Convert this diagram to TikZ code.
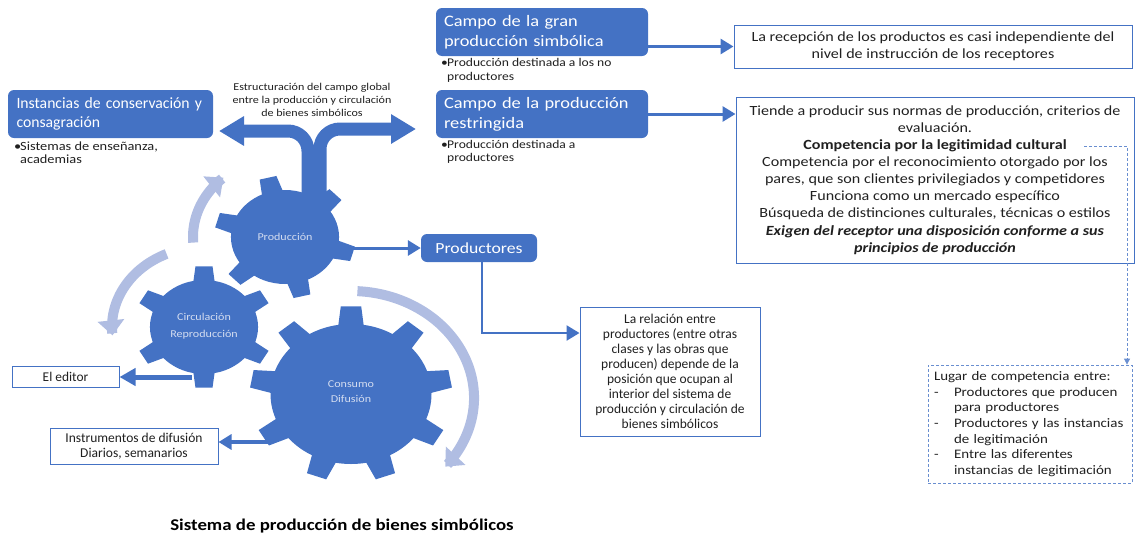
\documentclass[tikz,border=0pt]{standalone}
\usepackage{fontspec}
\setmainfont{Carlito}[FakeStretch=1.15]
\newfontfamily\nst{Carlito}
\usetikzlibrary{arrows.meta,calc}
\definecolor{blu}{HTML}{4472C4}
\definecolor{lite}{HTML}{B0BDE2}
\definecolor{gtxt}{HTML}{D3DCF0}
\definecolor{ink}{HTML}{202020}
\newcommand\fs[2]{\fontsize{#1}{#2}\selectfont}
\newcommand\drawgear[7]{%
  \begin{scope}[shift={(#1)},xscale=1.15]
    \fill[blu] (0,0) circle (#4pt);
    \foreach \k in {1,...,#2}{
      \pgfmathsetmacro\ang{-(#3+360/#2*(\k-1))}
      \pgfmathsetmacro\rin{#4-4}
      \fill[blu] (\ang+#6:\rin) -- (\ang+#7:#5) -- (\ang-#7:#5) -- (\ang-#6:\rin) -- cycle;
    }
  \end{scope}}
\tikzset{
  bbox/.style={fill=blu, rounded corners=6pt, text=white, align=left},
  wbox/.style={draw=blu, line width=1pt, fill=white, text=ink, align=center},
  bullet/.style={anchor=north west, inner sep=0pt, text=ink, align=left},
  conn/.style={blu, line width=3pt, -{Triangle[length=13pt,width=15pt]}},
  bigarrow/.style={blu, line width=13pt, rounded corners=20pt, -{Triangle[length=25pt,width=28pt]}},
  litearrow/.style={lite, line width=10pt, -{Triangle[length=15pt,width=26pt]}},
  geartext/.style={text=gtxt, align=center},
  dashline/.style={blu!80, line width=0.8pt, dash pattern=on 3pt off 2pt},
}
\begin{document}
\begin{tikzpicture}[x=1pt,y=-1pt]
\useasboundingbox (0,0) rectangle (1135,533);

% gear centres
\coordinate (gP) at (285,237);
\coordinate (gC) at (204,327);
\coordinate (gK) at (351,394);

% light circular arrows
\draw[litearrow] plot[domain=0:1, samples=40, smooth] ({285+1.15*80*cos(184-52*\x)},{237-80*sin(184-52*\x)});
\draw[litearrow] plot[domain=0:1, samples=40, smooth] ({204+1.15*80*cos(114+72*\x)},{327-80*sin(114+72*\x)});
\draw[litearrow] plot[domain=0:1, samples=60, smooth] ({351+1.15*107*cos(87-127*\x)},{398-107*sin(87-127*\x)});

% big split arrow
\coordinate (sL) at (308,205);
\coordinate (sR) at (320,205);
\coordinate (tipL) at (219,131);
\coordinate (tipR) at (416,129);
\draw[bigarrow] (sL) -- (sL |- tipL) -- (tipL);
\draw[bigarrow] (sR) -- (sR |- tipR) -- (tipR);

% gears
\drawgear{gP}{6}{44}{47}{61.5}{13}{7}
\drawgear{gC}{6}{90}{47}{61}{13}{7}
\drawgear{gK}{9}{90}{70}{88}{10}{5.8}

\node[geartext, font=\fs{10.5}{16}] (prodt) at (gP) {Producción};
\node[geartext, font=\fs{10.5}{17}] (circt) at ($(gC)+(0,-1)$) {Circulación\\Reproducción};
\node[geartext, font=\fs{10.5}{15}] (const) at ($(gK)+(0,-2)$) {Consumo\\Difusión};

% label of split arrow
\node[text=ink, align=center, font=\fs{10.5}{12.8}] (estr) at (312,100) {Estructuración del campo global\\entre la producción y circulación\\de bienes simbólicos};

% left blue box
\node[bbox, minimum width=205pt, minimum height=48pt, text width=188pt, font=\nst\fs{15.7}{19}] (inst) at (110.5,114) {\mbox{Instancias de conservación y}\\consagración};
\node[bullet, font=\fs{12.5}{12.5}] (instb) at (14,142) {\makebox[6pt][l]{•}Sistemas de enseñanza,\\\hspace*{6pt}academias};

% top blue boxes
\node[bbox, minimum width=212pt, minimum height=48pt, text width=196pt, font=\fs{16}{20}] (gran) at (542,32) {\mbox{Campo de la gran}\\producción simbólica};
\node[bullet, font=\fs{11.8}{14}] (granb) at (441,58) {\makebox[6pt][l]{•}Producción destinada a los no\\\hspace*{6pt}productores};
\node[bbox, minimum width=212pt, minimum height=48pt, text width=196pt, font=\fs{16}{20}] (restr) at (542,114) {\mbox{Campo de la producción}\\restringida};
\node[bullet, font=\fs{11.8}{13.5}] (restrb) at (441,140) {\makebox[6pt][l]{•}Producción destinada a\\\hspace*{6pt}productores};

% right boxes
\node[wbox, minimum width=398pt, minimum height=43pt, font=\fs{14}{17}] (rb1) at (933,46.5) {La recepción de los productos es casi independiente del\\nivel de instrucción de los receptores};
\node[wbox, minimum width=398pt, minimum height=166pt, font=\fs{14}{17.1}] (rb2) at (935,180) {Tiende a producir sus normas de producción, criterios de\\evaluación.\\\textbf{Competencia por la legitimidad cultural}\\Competencia por el reconocimiento otorgado por los\\pares, que son clientes privilegiados y competidores\\Funciona como un mercado específico\\Búsqueda de distinciones culturales, técnicas o estilos\\\textbf{\textit{Exigen del receptor una disposición conforme a sus}}\\\textbf{\textit{principios de producción}}};

\draw[conn] (gran.east |- rb1.west) -- (rb1.west);
\draw[conn] (restr.east) -- (restr.east -| rb2.west);

% dashed box
\node[draw=blu!80, line width=0.8pt, dash pattern=on 3pt off 2pt, minimum width=204pt, minimum height=118pt, text width=192pt, align=left, text=ink, font=\fs{13}{15.6}] (lugar) at (1030,424) {Lugar de competencia entre:\\\makebox[20pt][l]{-}Productores que producen\\\hspace*{20pt}para productores\\\makebox[20pt][l]{-}Productores y las instancias\\\hspace*{20pt}de legitimación\\\makebox[20pt][l]{-}Entre las diferentes\\\hspace*{20pt}instancias de legitimación};
\coordinate (dA) at (1084,146);
\coordinate (dB) at (1127,146);
\draw[dashline, -{Triangle[length=6pt,width=6pt]}] (dA) -- (dB) -- (dB |- lugar.north);

% Productores
\node[bbox, align=center, minimum width=116pt, minimum height=28pt, font=\fs{15.4}{18}] (prodbox) at (479,248) {Productores};
\coordinate (pR) at (342,248);
\draw[conn] (pR) -- (pR -| prodbox.west);

\node[wbox, minimum width=180pt, minimum height=129pt, font=\nst\fs{13.5}{15.1}] (rel) at (670,371.5) {La relación entre\\productores (entre otras\\clases y las obras que\\producen) depende de la\\posición que ocupan al\\interior del sistema de\\producción y circulación de\\bienes simbólicos};
\draw[conn, line width=2.5pt] ([xshift=3pt]prodbox.south) |- ([yshift=38.5pt]rel.west);

% editor and instruments
\node[wbox, minimum width=107pt, minimum height=21pt, font=\nst\fs{13.4}{15}] (editor) at (65.5,376.5) {El editor};
\coordinate (cL) at (192,377);
\draw[blu, line width=5pt, -{Triangle[length=16pt,width=17pt]}] (cL) -- (cL -| editor.east);

\node[wbox, minimum width=168pt, minimum height=36pt, font=\nst\fs{13.5}{14.5}] (instr) at (134,446) {Instrumentos de difusión\\Diarios, semanarios};
\coordinate (kL) at (272,442);
\draw[conn, line width=3.5pt] (kL) -- (kL -| instr.east);

% title
\node[anchor=base, text=black, font=\fs{16.4}{18}\bfseries] (title) at (342,530) {Sistema de producción de bienes simbólicos};
\end{tikzpicture}
\end{document}
